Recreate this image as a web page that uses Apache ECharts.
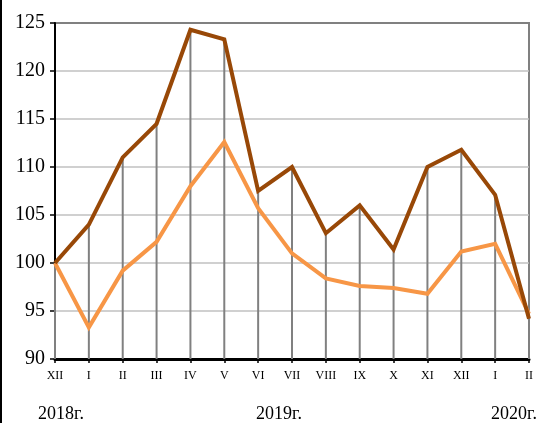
<!DOCTYPE html>
<html>
<head>
<meta charset="utf-8">
<script src="https://cdn.jsdelivr.net/npm/echarts@6/dist/echarts.min.js"></script>
<style>
html,body{margin:0;padding:0;background:#fff;}
#chart{width:541px;height:423px;}
</style>
</head>
<body>
<div id="chart"></div>
<script>
const categories = ['XII','I','II','III','IV','V','VI','VII','VIII','IX','X','XI','XII','I','II'];
const seriesDark = [100, 104.0, 111.0, 114.5, 124.3, 123.3, 107.5, 110.0, 103.1, 106.0, 101.4, 110.0, 111.8, 107.1, 94.2];
const seriesOrange = [100, 93.3, 99.2, 102.2, 108.0, 112.6, 105.7, 101.0, 98.4, 97.6, 97.4, 96.8, 101.2, 102.0, 94.7];
const yearLabels = ['2018г.', '2019г.', '2020г.'];
const yTicks = {min: 90, max: 125, interval: 5};

const dropValues = seriesDark.map((v, i) => Math.max(v, seriesOrange[i]));

const chart = echarts.init(document.getElementById('chart'), null, {renderer: 'canvas'});
const serif = '"Liberation Serif", "Times New Roman", serif';
const splitColors = ['#c0c0c0','#c0c0c0','#c0c0c0','#c0c0c0','#c0c0c0','#c0c0c0','#c0c0c0','#808080'];

chart.setOption({
  animation: false,
  backgroundColor: '#fff',
  grid: {left: 55, right: 12, top: 23, bottom: 64, show: true, borderColor: '#808080', borderWidth: 2, backgroundColor: 'transparent'},
  xAxis: {
    type: 'category',
    data: categories,
    boundaryGap: false,
    axisLine: {lineStyle: {color: '#000', width: 3}},
    axisTick: {show: true, alignWithLabel: true, length: 4, lineStyle: {color: '#000', width: 1.5}},
    axisLabel: {color: '#000', fontFamily: serif, fontSize: 12, margin: 11, interval: 0},
    splitLine: {show: false}
  },
  yAxis: {
    type: 'value',
    min: yTicks.min, max: yTicks.max, interval: yTicks.interval,
    axisLine: {show: true, lineStyle: {color: '#000', width: 2}},
    axisTick: {show: true, length: 5, lineStyle: {color: '#000', width: 1.5}},
    axisLabel: {color: '#000', fontFamily: serif, fontSize: 20, margin: 10},
    splitLine: {show: true, lineStyle: {color: splitColors, width: 1.5}}
  },
  series: [
    {
      type: 'custom',
      z: 1,
      data: dropValues.map((v, i) => [i, v]),
      renderItem: function (params, api) {
        const top = api.coord([api.value(0), api.value(1)]);
        const bottom = api.coord([api.value(0), yTicks.min]);
        return {
          type: 'line',
          shape: {x1: top[0], y1: top[1], x2: bottom[0], y2: bottom[1]},
          style: {stroke: '#808080', lineWidth: 2}
        };
      },
      silent: true
    },
    {
      type: 'line', data: seriesOrange, z: 3,
      symbol: 'none',
      lineStyle: {color: '#F79646', width: 4, join: 'miter'}
    },
    {
      type: 'line', data: seriesDark, z: 4,
      symbol: 'none',
      lineStyle: {color: '#984807', width: 4, join: 'miter'}
    }
  ],
  graphic: [
    {type: 'rect', left: 0, top: 0, shape: {x: 0, y: 0, width: 2, height: 423}, style: {fill: '#000'}, z: 10},
    {type: 'text', x: 61, y: 414, style: {text: yearLabels[0], font: '18px ' + serif, fill: '#000', textAlign: 'center', textVerticalAlign: 'middle'}},
    {type: 'text', x: 279, y: 414, style: {text: yearLabels[1], font: '18px ' + serif, fill: '#000', textAlign: 'center', textVerticalAlign: 'middle'}},
    {type: 'text', x: 514, y: 414, style: {text: yearLabels[2], font: '18px ' + serif, fill: '#000', textAlign: 'center', textVerticalAlign: 'middle'}}
  ]
});
</script>
</body>
</html>
